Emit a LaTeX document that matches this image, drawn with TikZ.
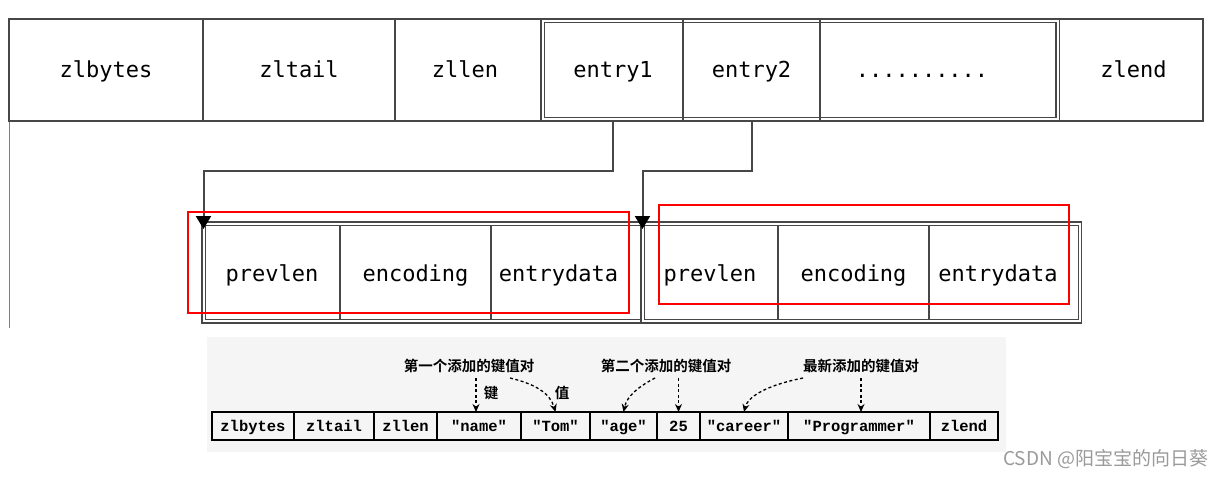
\documentclass[tikz,border=0pt]{standalone}
\usepackage{fontspec}
\usetikzlibrary{arrows.meta,calc}
\setmonofont{Liberation Mono}
\newfontfamily\topfont{DejaVu Sans Mono}
\newfontfamily\cjk{Noto Sans CJK SC}[BoldFont={Noto Sans CJK SC Bold}]
\definecolor{linegray}{HTML}{474747}
\definecolor{panelbg}{HTML}{F5F5F5}
\definecolor{wm}{HTML}{9A9A9A}
\definecolor{hlred}{HTML}{FF0000}
\begin{document}
\begin{tikzpicture}[x=1pt,y=-1pt,
  topcell/.style={draw=linegray, line width=1.5pt, minimum height=102pt, inner sep=0pt, outer sep=0pt, anchor=west, text height=17pt, text depth=3pt, font=\topfont\fontsize{22}{26}\selectfont},
  subcell/.style={draw=linegray, line width=1.5pt, minimum height=97pt, inner sep=0pt, outer sep=0pt, anchor=west, text height=18pt, text depth=0pt, font=\topfont\fontsize{22}{26}\selectfont},
  dbl/.style={draw=linegray, line width=1.2pt, double=white, double distance=2pt},
  conn/.style={draw=linegray, line width=2pt, -{Triangle[width=15pt,length=13pt,black]}},
  hlbox/.style={draw=hlred, line width=2pt},
  kvcell/.style={draw=black, line width=1.8pt, minimum height=28pt, inner sep=0pt, outer sep=0pt, anchor=west, text height=12.5pt, text depth=1pt, font=\ttfamily\bfseries\fontsize{15.5}{18}\selectfont},
  cjklabel/.style={font=\cjk\bfseries\fontsize{14.5}{16}\selectfont, inner sep=0pt},
  kvarrow/.style={draw=black, line width=1.3pt, dash pattern=on 3pt off 2.5pt, -{Stealth[width=7pt,length=8pt]}}
]
\useasboundingbox (0,0) rectangle (1230,477);

% left border line of the screenshot
\draw[linegray!70, line width=1pt] (9,121) -- (9,328);

% ---- top row ----
\node[topcell, minimum width=194pt] (zlbytes) at (9,70) {zlbytes};
\node[topcell, minimum width=192pt] (zltail) at (203,70) {zltail};
\node[topcell, minimum width=146pt] (zllen) at (395,70) {\hspace*{-6pt}zllen};
\node[topcell, minimum width=140pt] (entry1) at (543,70) {entry1};
\node[topcell, minimum width=137pt] (entry2) at (683,70) {entry2};
\node[topcell, minimum width=238pt] (dots) at (820,70) {\hspace*{-34pt}..........};
\node[topcell, minimum width=145pt] (zlend) at (1058,70) {\hspace*{6pt}zlend};
\draw[dbl] (542.5,20.6) rectangle (1057.5,119.4);
\draw[linegray, line width=1.5pt] (entry1.north east) -- (entry1.south east);
\draw[linegray, line width=1.5pt] (entry2.north east) -- (entry2.south east);

% ---- second row ----
\node[subcell, minimum width=136pt] (p1) at (204,272) {prevlen};
\node[subcell, minimum width=151pt] (c1) at (340,272) {encoding};
\node[subcell, minimum width=151pt] (d1) at (491,272) {\hspace*{-16pt}entrydata};
\node[subcell, minimum width=136pt] (p2) at (642,272) {prevlen};
\node[subcell, minimum width=151pt] (c2) at (778,272) {encoding};
\node[subcell, minimum width=152pt] (d2) at (929,272) {\hspace*{-14pt}entrydata};
\draw[dbl] (203.5,223.6) rectangle (642.5,321.4);
\draw[dbl] (642.5,223.6) rectangle (1080,321.4);

\coordinate (a1) at (203.5,229);
\coordinate (a2) at (642.5,229);
\draw[conn] (entry1.south) -- ++(0,50) -| (a1);
\draw[conn] (entry2.south) -- ++(0,50) -| (a2);

\draw[hlbox] (188,212) rectangle (629,313);
\draw[hlbox] (659,205) rectangle (1069,304);

% ---- bottom panel ----
\fill[panelbg] (207,337) rectangle (1006,452);
\node[kvcell, minimum width=82pt] (kzlbytes) at (212,426) {zlbytes};
\node[kvcell, minimum width=80pt] (kzltail) at (294,426) {zltail};
\node[kvcell, minimum width=63pt] (kzllen) at (374,426) {zllen};
\node[kvcell, minimum width=84pt] (kname) at (437,426) {"name"};
\node[kvcell, minimum width=69pt] (ktom) at (521,426) {"Tom"};
\node[kvcell, minimum width=67pt] (kage) at (590,426) {"age"};
\node[kvcell, minimum width=43pt] (k25) at (657,426) {25};
\node[kvcell, minimum width=88pt] (kcareer) at (700,426) {"career"};
\node[kvcell, minimum width=142pt] (kprog) at (788,426) {"Programmer"};
\node[kvcell, minimum width=68pt] (kzlend) at (930,426) {zlend};

\node[cjklabel] (first) at (469,366) {第一个添加的键值对};
\node[cjklabel] (second) at (666,366) {第二个添加的键值对};
\node[cjklabel] (newest) at (861,366) {最新添加的键值对};
\node[cjklabel] (jian) at (491,393) {键};
\node[cjklabel] (zhi) at (562,393) {值};

\coordinate (s1) at (476,378);
\coordinate (s2) at (510,378);
\coordinate (s3) at (655,378);
\coordinate (s4) at (678.5,378);
\coordinate (s5) at (803,378);
\coordinate (s6) at (861,378);
\draw[kvarrow] (s1) -- (s1 |- kname.north);
\draw[kvarrow] (s2) .. controls (535,384) and (550,393) .. (ktom.north);
\draw[kvarrow] (s3) .. controls (638,387) and (627,396) .. (kage.north);
\draw[kvarrow] (s4) -- (k25.north);
\draw[kvarrow] (s5) .. controls (768,385) and (748,396) .. (kcareer.north);
\draw[kvarrow] (s6) -- (s6 |- kprog.north);

% watermark
\node[font=\cjk\fontsize{19}{22}\selectfont, text=wm, anchor=west, inner sep=0pt] (wmark) at (1003,459) {CSDN @阳宝宝的向日葵};
\end{tikzpicture}
\end{document}
